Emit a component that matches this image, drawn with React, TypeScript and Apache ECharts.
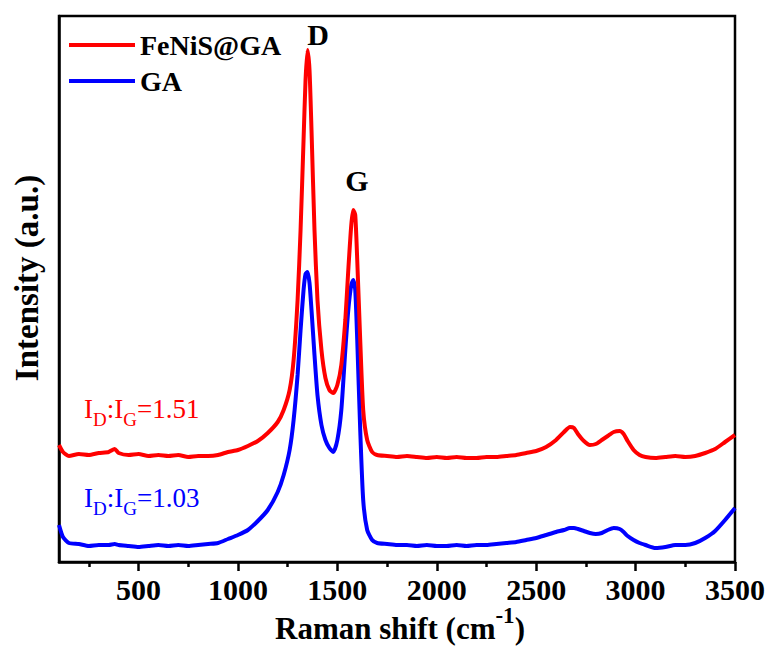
import React, { useEffect, useRef } from "react";
import * as echarts from "echarts";

// Raman shift (cm^-1)
const ramanShift = [
  100, 120, 150, 200, 250, 300, 350, 380, 400, 450,
  500, 550, 600, 650, 700, 750, 800, 850, 900, 950,
  1000, 1050, 1100, 1150, 1200, 1230, 1260, 1280, 1300, 1315,
  1330, 1340, 1350, 1360, 1370, 1385, 1400, 1420, 1440, 1460,
  1480, 1500, 1520, 1540, 1555, 1570, 1580, 1590, 1600, 1615,
  1630, 1650, 1675, 1700, 1750, 1800, 1850, 1900, 1950, 2000,
  2050, 2100, 2150, 2200, 2250, 2300, 2350, 2400, 2450, 2500,
  2550, 2600, 2640, 2670, 2690, 2710, 2740, 2770, 2800, 2830,
  2860, 2890, 2920, 2940, 2960, 2990, 3020, 3050, 3100, 3150,
  3200, 3250, 3300, 3350, 3400, 3450, 3500,
];

// Intensity (a.u.), FeNiS@GA
const feNiSGA = [
  117, 110, 106, 108, 107, 109, 110, 113, 109, 107,
  108, 106, 107, 106, 107, 105, 106, 106, 107, 110,
  112, 116, 121, 129, 140, 152, 172, 202, 262, 332,
  422, 482, 512, 492, 432, 332, 262, 212, 184, 172,
  169, 177, 197, 242, 292, 337, 352, 347, 302, 222,
  152, 122, 110, 107, 106, 105, 106, 105, 104, 105,
  104, 105, 104, 104, 105, 105, 106, 107, 109, 111,
  115, 122, 130, 135, 134, 128, 121, 117, 118, 122,
  126, 130, 131, 128, 121, 112, 107, 105, 104, 105,
  106, 105, 106, 109, 113, 120, 127,
];

// Intensity (a.u.), GA
const ga = [
  37, 25, 19, 18, 16, 17, 17, 18, 17, 16,
  15, 16, 17, 16, 17, 16, 17, 18, 19, 23,
  27, 32, 41, 52, 70, 87, 112, 142, 187, 232,
  272, 288, 290, 279, 252, 207, 167, 137, 122, 114,
  110, 122, 152, 212, 252, 277, 282, 272, 222, 132,
  62, 32, 22, 19, 18, 17, 17, 16, 17, 16,
  16, 17, 16, 17, 17, 18, 19, 20, 22, 24,
  27, 30, 32, 34, 34, 33, 31, 29, 28, 29,
  32, 34, 33, 30, 26, 22, 19, 17, 14, 15,
  17, 17, 19, 24, 31, 42, 54,
];

const majorTicks = [500, 1000, 1500, 2000, 2500, 3000, 3500];
const minorTicks = [250, 750, 1250, 1750, 2250, 2750, 3250];
const seriesNames = ["FeNiS@GA", "GA"];
const ratioLabels = ["1.51", "1.03"];

const FONT = "'Liberation Serif', 'Times New Roman', serif";

export default function App() {
  const ref = useRef<HTMLDivElement>(null);

  useEffect(() => {
    if (!ref.current) return;
    const chart = echarts.init(ref.current, null, { renderer: "svg" });

    const gridPos = { left: 59, right: 37, top: 16, bottom: 86 };
    const subRich = (color: string) => ({
      base: { fontFamily: FONT, fontSize: 27, fill: color, lineHeight: 30, verticalAlign: "top" },
      sub: { fontFamily: FONT, fontSize: 19, fill: color, lineHeight: 19, verticalAlign: "top", padding: [15, 0, 0, 0] },
    });

    chart.setOption({
      animation: false,
      backgroundColor: "#ffffff",
      grid: [
        { ...gridPos, show: true, borderColor: "#000", borderWidth: 2.5, containLabel: false },
        { ...gridPos, show: false, containLabel: false },
      ],
      legend: {
        data: seriesNames,
        orient: "vertical",
        left: 64,
        top: 25,
        icon: "rect",
        itemWidth: 66,
        itemHeight: 4,
        itemGap: 6,
        textStyle: { fontFamily: FONT, fontSize: 28, fontWeight: "bold", color: "#000", lineHeight: 30 },
      },
      xAxis: [
        {
          type: "value",
          gridIndex: 0,
          min: 100,
          max: 3500,
          axisLine: { show: true, lineStyle: { color: "#000", width: 2.5 } },
          axisTick: { show: true, customValues: majorTicks, length: 9, lineStyle: { color: "#000", width: 2.5 } },
          axisLabel: {
            customValues: majorTicks,
            formatter: (v: number) => String(v),
            fontFamily: FONT,
            fontSize: 30,
            fontWeight: "bold",
            color: "#000",
            margin: 12,
          },
          splitLine: { show: false },
        },
        {
          type: "value",
          gridIndex: 1,
          min: 100,
          max: 3500,
          axisLine: { show: false },
          axisTick: { show: true, customValues: minorTicks, length: 5, lineStyle: { color: "#000", width: 2.5 } },
          axisLabel: { show: false },
          splitLine: { show: false },
        },
      ],
      yAxis: [
        {
          type: "value",
          gridIndex: 0,
          min: 0,
          max: 546,
          axisLine: { show: true, lineStyle: { color: "#000", width: 2.5 } },
          axisTick: { show: false },
          axisLabel: { show: false },
          splitLine: { show: false },
        },
        {
          type: "value",
          gridIndex: 1,
          min: 0,
          max: 546,
          show: false,
        },
      ],
      series: [
        {
          name: seriesNames[0],
          type: "line",
          xAxisIndex: 0,
          yAxisIndex: 0,
          data: ramanShift.map((x, i) => [x, feNiSGA[i]]),
          showSymbol: false,
          smooth: 0.2,
          lineStyle: { color: "#ff0000", width: 4 },
          itemStyle: { color: "#ff0000" },
          z: 3,
        },
        {
          name: seriesNames[1],
          type: "line",
          xAxisIndex: 0,
          yAxisIndex: 0,
          data: ramanShift.map((x, i) => [x, ga[i]]),
          showSymbol: false,
          smooth: 0.2,
          lineStyle: { color: "#0000ff", width: 4 },
          itemStyle: { color: "#0000ff" },
          z: 2,
        },
      ],
      graphic: [
        {
          type: "text",
          x: 318,
          y: 34,
          style: { text: "D", font: `bold 30px ${FONT}`, fill: "#000", align: "center", verticalAlign: "middle" },
        },
        {
          type: "text",
          x: 357,
          y: 180,
          style: { text: "G", font: `bold 30px ${FONT}`, fill: "#000", align: "center", verticalAlign: "middle" },
        },
        {
          type: "text",
          x: 84,
          y: 395,
          style: {
            text: `{base|I}{sub|D}{base|:I}{sub|G}{base|=${ratioLabels[0]}}`,
            rich: subRich("#ff0000"),
            align: "left",
            verticalAlign: "top",
          },
        },
        {
          type: "text",
          x: 84,
          y: 484,
          style: {
            text: `{base|I}{sub|D}{base|:I}{sub|G}{base|=${ratioLabels[1]}}`,
            rich: subRich("#0000ff"),
            align: "left",
            verticalAlign: "top",
          },
        },
        {
          type: "text",
          x: 400,
          y: 604,
          style: {
            text: "{a|Raman shift (cm}{s|-1}{a|)}",
            rich: {
              a: { fontFamily: FONT, fontSize: 31, fontWeight: "bold", fill: "#000", lineHeight: 40, verticalAlign: "bottom" },
              s: { fontFamily: FONT, fontSize: 23, fontWeight: "bold", fill: "#000", lineHeight: 23, verticalAlign: "top" },
            },
            align: "center",
            verticalAlign: "top",
          },
        },
        {
          type: "text",
          x: 27,
          y: 278,
          rotation: Math.PI / 2,
          style: {
            text: "Intensity (a.u.)",
            font: `bold 33px ${FONT}`,
            fill: "#000",
            align: "center",
            verticalAlign: "middle",
          },
        },
      ],
    });

    return () => chart.dispose();
  }, []);

  return (
    <div
      ref={ref}
      style={{ position: "fixed", left: 0, top: 0, width: 772, height: 648, background: "#fff" }}
    />
  );
}
